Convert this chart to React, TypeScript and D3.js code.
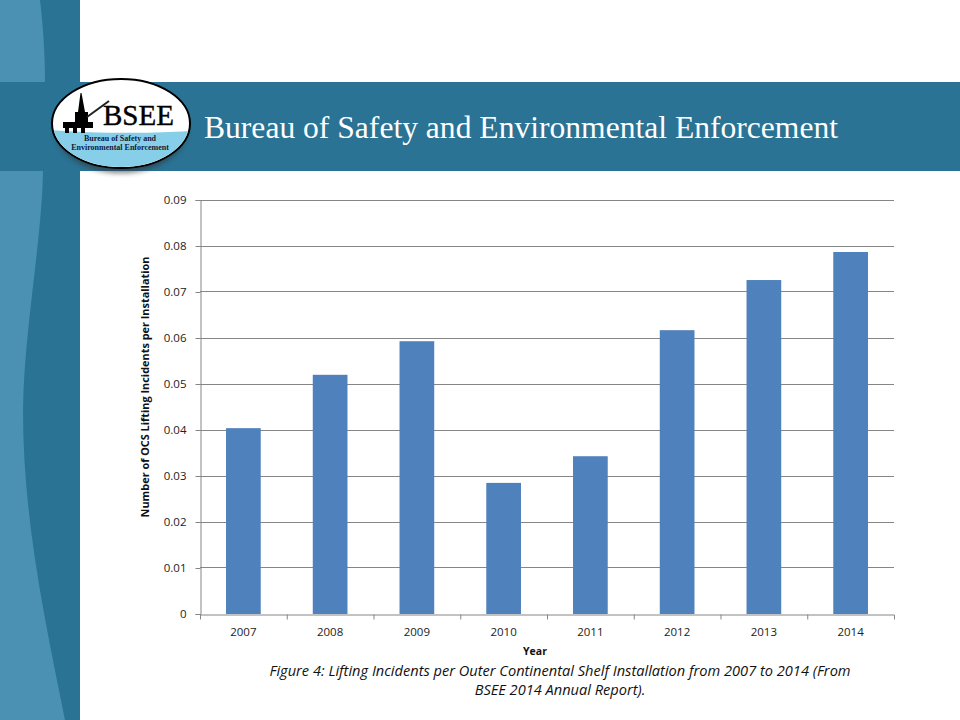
import React, { useEffect, useRef } from 'react';
import * as d3 from 'd3';

const years = ['2007', '2008', '2009', '2010', '2011', '2012', '2013', '2014'];
const incidents = [0.0404, 0.052, 0.0593, 0.0285, 0.0343, 0.0617, 0.0726, 0.0787];
const yTicks = [0, 0.01, 0.02, 0.03, 0.04, 0.05, 0.06, 0.07, 0.08, 0.09];
const captionLines = [
    'Figure 4: Lifting Incidents per Outer Continental Shelf Installation from 2007 to 2014 (From',
    'BSEE 2014 Annual Report).',
];

const DARK = '#2a7394';
const LIGHT = '#4a91b3';
const chartFont = '"Open Sans", sans-serif';

const App: React.FC = () => {
    const chartRef = useRef<SVGGElement>(null);

    useEffect(() => {
        if (!chartRef.current) return;
        const g = d3.select(chartRef.current);
        g.selectAll('*').remove();

        const x = d3.scaleBand().domain(years).range([200, 894]).paddingInner(0.6).paddingOuter(0.3);
        const xAxisScale = d3.scaleBand().domain(years).range([200, 894]);
        const y = d3.scaleLinear().domain([0, 0.09]).range([614, 200]);

        // gridlines
        g.append('g')
            .selectAll('line')
            .data(yTicks.slice(1))
            .enter()
            .append('line')
            .attr('x1', 200)
            .attr('x2', 894)
            .attr('y1', d => Math.floor(y(d)) + 0.5)
            .attr('y2', d => Math.floor(y(d)) + 0.5)
            .attr('stroke', '#868686');

        // bars
        g.append('g')
            .selectAll('rect')
            .data(incidents)
            .enter()
            .append('rect')
            .attr('x', (_, i) => x(years[i]) as number)
            .attr('y', d => y(d))
            .attr('width', x.bandwidth())
            .attr('height', d => 614 - y(d))
            .attr('fill', '#4f81bd');

        // y axis
        const yAxis = g.append('g')
            .attr('transform', 'translate(200.5,0)')
            .call(d3.axisLeft(y).tickValues(yTicks).tickFormat(d => String(d)).tickSize(5).tickPadding(9));
        yAxis.selectAll('text').attr('font-size', 11.5).attr('font-family', chartFont).attr('fill', '#222');
        yAxis.selectAll('line, path').attr('stroke', '#868686');

        // x axis with ticks between the years
        const xAxis = g.append('g')
            .attr('transform', 'translate(0,614.5)')
            .call(d3.axisBottom(xAxisScale).tickSize(0).tickPadding(13).tickSizeOuter(5));
        xAxis.selectAll('text').attr('font-size', 11.5).attr('font-family', chartFont).attr('fill', '#222');
        xAxis.selectAll('path').attr('stroke', '#868686');
        xAxis.selectAll('.sep')
            .data(years.slice(1))
            .enter()
            .append('line')
            .attr('class', 'sep')
            .attr('x1', d => (xAxisScale(d) as number) + 0.5)
            .attr('x2', d => (xAxisScale(d) as number) + 0.5)
            .attr('y1', 0)
            .attr('y2', 5)
            .attr('stroke', '#868686');

        // axis titles
        g.append('text')
            .attr('x', 535)
            .attr('y', 655)
            .attr('text-anchor', 'middle')
            .attr('font-family', chartFont)
            .attr('font-size', 10.5)
            .attr('font-weight', 700)
            .attr('fill', '#111')
            .text('Year');

        g.append('text')
            .attr('transform', 'translate(149,387) rotate(-90)')
            .attr('text-anchor', 'middle')
            .attr('font-family', chartFont)
            .attr('font-size', 10.9)
            .attr('font-weight', 700)
            .attr('fill', '#111')
            .text('Number of OCS Lifting Incidents per Installation');
    }, []);

    return (
        <svg width={960} height={720} style={{ position: 'fixed', left: 0, top: 0, display: 'block', background: '#fff' }}>
            <defs>
                <clipPath id="logoClip">
                    <ellipse cx={121} cy={123.5} rx={68} ry={43.5} />
                </clipPath>
                <filter id="logoShadow" x="-20%" y="-20%" width="140%" height="140%">
                    <feGaussianBlur stdDeviation={2.5} />
                </filter>
            </defs>

            {/* slide background */}
            <rect x={0} y={0} width={80} height={720} fill={DARK} />
            <rect x={0} y={82} width={960} height={89} fill={DARK} />
            <path d="M0,0 L40,0 C43,25 45,55 45,82 L0,82 Z" fill={LIGHT} />
            <path d="M0,171 L43,171 C42,240 24,330 23,410 C23,520 45,620 65,720 L0,720 Z" fill={LIGHT} />

            {/* logo */}
            <ellipse cx={121} cy={129} rx={66} ry={44} fill="#333" opacity={0.6} filter="url(#logoShadow)" />
            <ellipse cx={121} cy={123.5} rx={69} ry={44.5} fill="#fff" stroke="#000" strokeWidth={2} />
            <g clipPath="url(#logoClip)">
                <path d="M50,130 C85,133 150,134 190,131 L190,170 L50,170 Z" fill="#87cfe8" />
            </g>
            <path d="M78,112 L80.5,93 L81.5,93 L85,112 L88,112 L88,122 L75,122 L75,112 Z M63,122 H93 V128 H63 Z M65,128 H69 V133 H65 Z M73,128 H77 V133 H73 Z M81,128 H85 V133 H81 Z" fill="#000" />
            <path d="M87,117 L109,101" stroke="#222" strokeWidth={2} />
            <text x={138.5} y={125} textAnchor="middle" fontFamily='"Liberation Serif", serif' fontSize={30} textLength={71} lengthAdjust="spacingAndGlyphs" fill="#000" stroke="#000" strokeWidth={0.4}>BSEE</text>
            <text x={120} y={141} textAnchor="middle" fontFamily='"Liberation Serif", serif' fontSize={8} fontWeight={700} fill="#10203a">Bureau of Safety and</text>
            <text x={120} y={150} textAnchor="middle" fontFamily='"Liberation Serif", serif' fontSize={8} fontWeight={700} fill="#10203a">Environmental Enforcement</text>

            <text x={204} y={137.5} fontFamily='"Liberation Serif", serif' fontSize={31} textLength={634} lengthAdjust="spacingAndGlyphs" fill="#fff">Bureau of Safety and Environmental Enforcement</text>

            <g ref={chartRef} />

            {captionLines.map((line, i) => (
                <text key={i} x={560} y={676 + i * 19} textAnchor="middle" fontFamily={chartFont} fontStyle="italic" fontSize={14.6} fill="#111">{line}</text>
            ))}
        </svg>
    );
};

export default App;
